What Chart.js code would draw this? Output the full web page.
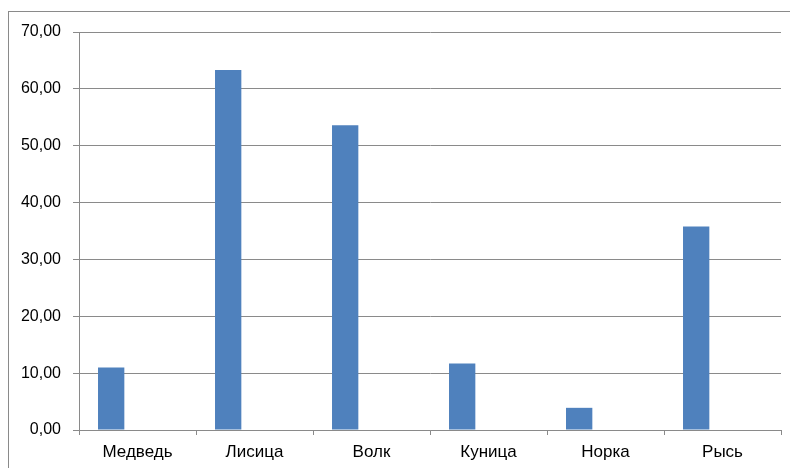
<!DOCTYPE html>
<html>
<head>
<meta charset="utf-8">
<script src="https://cdn.jsdelivr.net/npm/chart.js@4/dist/chart.umd.min.js"></script>
<style>
  html, body { margin: 0; padding: 0; background: #ffffff; }
  #wrap { width: 790px; height: 468px; position: relative; }
</style>
</head>
<body>
<div id="wrap"><canvas id="c"></canvas></div>
<script>
const categories = ['Медведь', 'Лисица', 'Волк', 'Куница', 'Норка', 'Рысь'];
const series1 = [11.0, 63.3, 53.6, 11.7, 3.9, 35.8];
const series2 = [null, null, null, null, null, null];
const series3 = [null, null, null, null, null, null];
const yMin = 0, yMax = 70, yStep = 10;

const frame = {
  id: 'frame',
  afterDraw(chart) {
    const ctx = chart.ctx;
    ctx.save();
    ctx.strokeStyle = '#8a8a8a';
    ctx.lineWidth = 1;
    ctx.beginPath();
    ctx.moveTo(8, 11.5); ctx.lineTo(790, 11.5);
    ctx.moveTo(8.5, 11); ctx.lineTo(8.5, 468);
    ctx.stroke();
    ctx.restore();
  }
};

const yFont = { family: '"Liberation Sans", Arial, sans-serif', size: 16 };
const xFont = { family: '"Liberation Sans", Arial, sans-serif', size: 17 };

new Chart(document.getElementById('c'), {
  type: 'bar',
  data: {
    labels: categories,
    datasets: [
      { data: series1, backgroundColor: '#4F81BD', categoryPercentage: 0.675, barPercentage: 1 },
      { data: series2, backgroundColor: '#C0504D', categoryPercentage: 0.675, barPercentage: 1 },
      { data: series3, backgroundColor: '#9BBB59', categoryPercentage: 0.675, barPercentage: 1 }
    ]
  },
  options: {
    responsive: true,
    maintainAspectRatio: false,
    animation: false,
    layout: { padding: { left: 0, top: 32, right: 9, bottom: 0 } },
    plugins: { legend: { display: false }, tooltip: { enabled: false } },
    scales: {
      x: {
        afterFit(s) { s.height = 38; },
        grid: { offset: true, drawOnChartArea: false, drawTicks: true, tickLength: 5, color: '#8a8a8a' },
        border: { color: '#8a8a8a', width: 1 },
        ticks: { font: xFont, color: '#000000', padding: 7, maxRotation: 0 }
      },
      y: {
        min: yMin, max: yMax,
        afterFit(s) { s.width = 79; },
        grid: { color: '#8a8a8a', tickLength: 6, drawTicks: true },
        border: { color: '#8a8a8a', width: 1 },
        ticks: {
          stepSize: yStep,
          font: yFont, color: '#000000', padding: 12,
          callback: v => v.toFixed(2).replace('.', ',')
        }
      }
    }
  },
  plugins: [frame]
});
</script>
</body>
</html>
